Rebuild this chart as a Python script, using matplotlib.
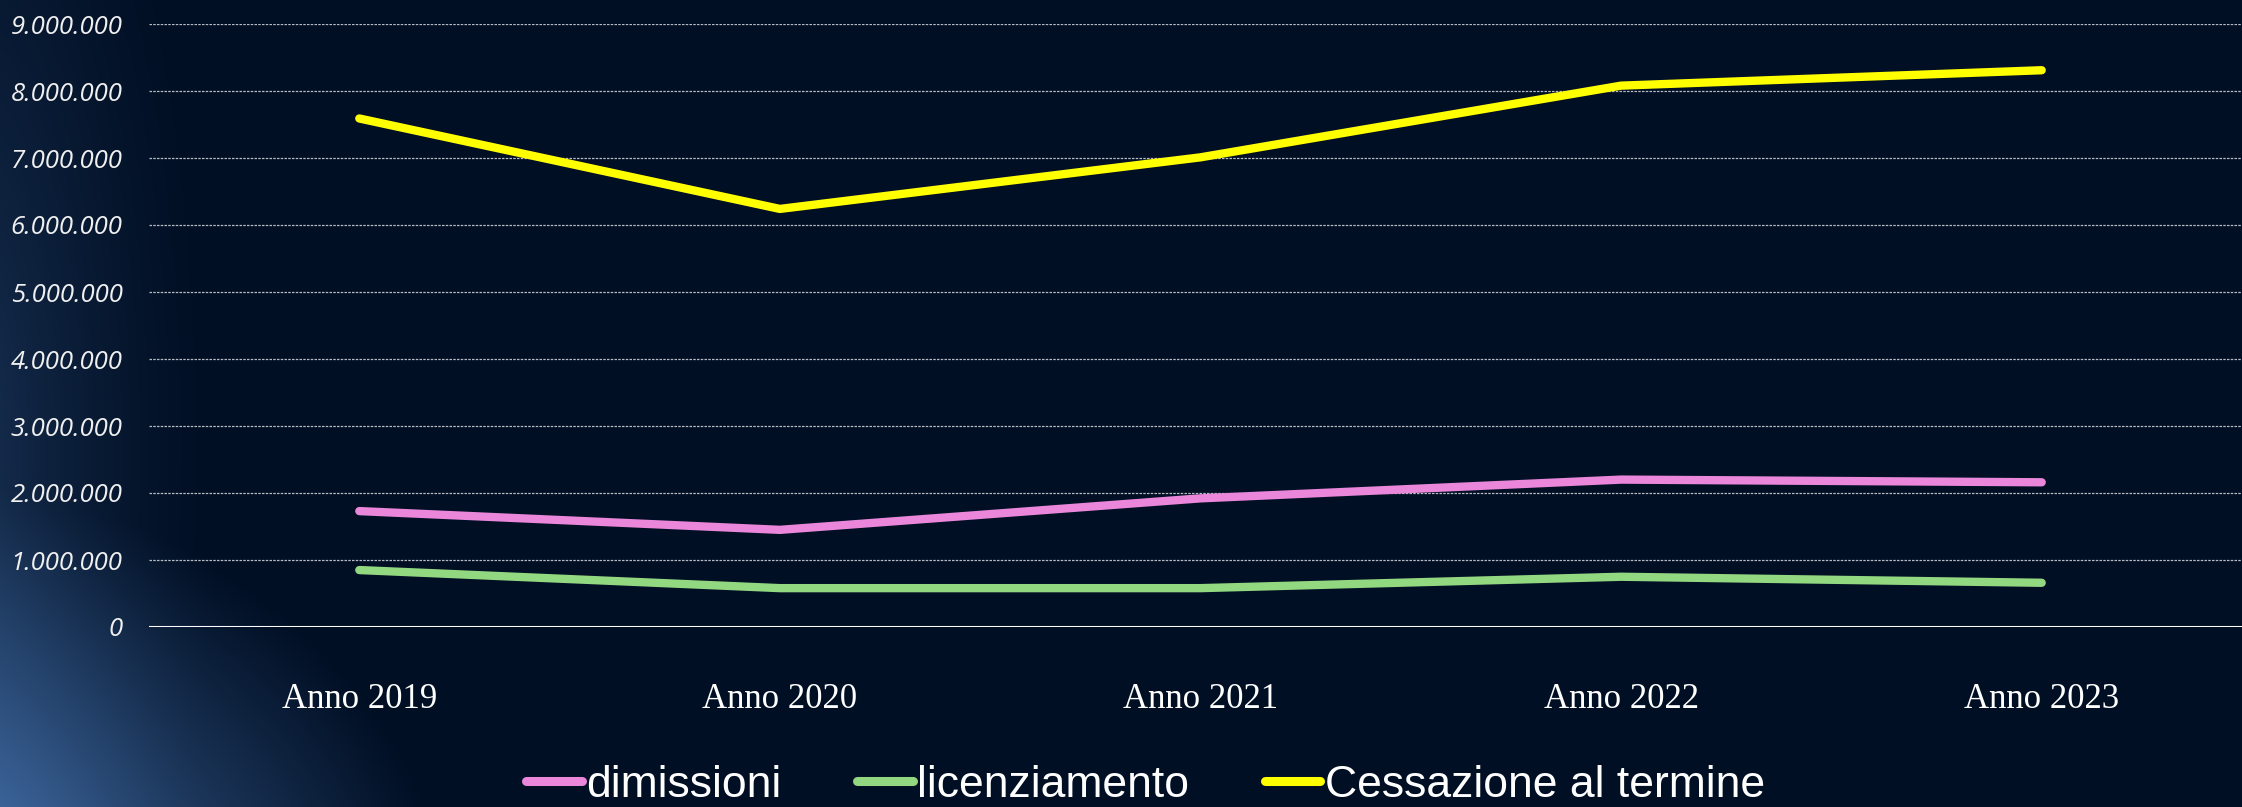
import matplotlib.pyplot as plt
import numpy as np
from matplotlib.ticker import FuncFormatter, MultipleLocator

# dati
anni = ['Anno 2019', 'Anno 2020', 'Anno 2021', 'Anno 2022', 'Anno 2023']
dimissioni = [1730000, 1450000, 1920000, 2200000, 2160000]
licenziamento = [850000, 580000, 580000, 750000, 660000]
cessazione = [7590000, 6240000, 7010000, 8080000, 8310000]

nomi_serie = ['dimissioni', 'licenziamento', 'Cessazione al termine']
colori = ['#ea87da', '#92d881', '#ffff00']

W, H, dpi = 2242, 807, 100
fig = plt.figure(figsize=(W / dpi, H / dpi), dpi=dpi)

# sfondo blu scuro con bagliore in basso a sinistra
bg = fig.add_axes([0, 0, 1, 1], zorder=-10)
yy, xx = np.mgrid[0:H, 0:W]
d = np.sqrt(((xx + 100) / 560.0) ** 2 + ((yy - 960) / 480.0) ** 2)
glow = np.clip(1 - d, 0, 1) ** 1.1
d2 = np.sqrt(((xx + 40) / 260.0) ** 2 + ((yy - 450) / 850.0) ** 2)
glow2 = np.clip(1 - d2, 0, 1) ** 1.5 * 0.3
g = np.clip(glow + glow2, 0, 1)[..., None]
base = np.array([1, 15, 36]) / 255.0
blue = np.array([80, 130, 195]) / 255.0
img = base * (1 - g) + blue * g
bg.imshow(img, aspect='auto', extent=[0, W, H, 0])
bg.set_axis_off()

ax = fig.add_axes([149 / W, 180 / H, 2103 / W, 603 / H])
ax.set_facecolor('none')

x = np.arange(len(anni))
for vals, nome, col in zip([dimissioni, licenziamento, cessazione], nomi_serie, colori):
    ax.plot(x, vals, color=col, lw=6, solid_capstyle='round',
            solid_joinstyle='round', label=nome, zorder=3)

ax.set_xlim(-0.5, len(anni) - 0.5)
ax.set_ylim(0, 9000000)
ax.yaxis.set_major_locator(MultipleLocator(1000000))
ax.yaxis.set_major_formatter(FuncFormatter(lambda v, p: '{:,.0f}'.format(v).replace(',', '.')))
ax.grid(axis='y', color='#b8bcc4', lw=0.9, ls=(0, (2, 1)), zorder=1)
ax.axhline(0, color='white', lw=2.2, zorder=2)

for s in ax.spines.values():
    s.set_visible(False)
ax.tick_params(length=0)
ax.tick_params(axis='y', pad=19, labelcolor='#f0f0f0')
ax.tick_params(axis='x', pad=40, labelcolor='white')
ax.set_xticks(x)
ax.set_xticklabels(anni, fontfamily='Liberation Serif', fontsize=25)
for t in ax.get_yticklabels():
    t.set_fontfamily('Open Sans')
    t.set_fontstyle('italic')
    t.set_fontsize(18.5)

leg = fig.legend(loc='center', bbox_to_anchor=(0.511, 0.027), ncol=3, frameon=False,
                 prop={'family': 'Liberation Sans', 'size': 32},
                 handlelength=1.25, handletextpad=0.1, columnspacing=1.7)
for t in leg.get_texts():
    t.set_color('white')
for h in leg.get_lines():
    h.set_linewidth(6.5)
    h.set_solid_capstyle('round')

fig.savefig('out.png', dpi=dpi)
